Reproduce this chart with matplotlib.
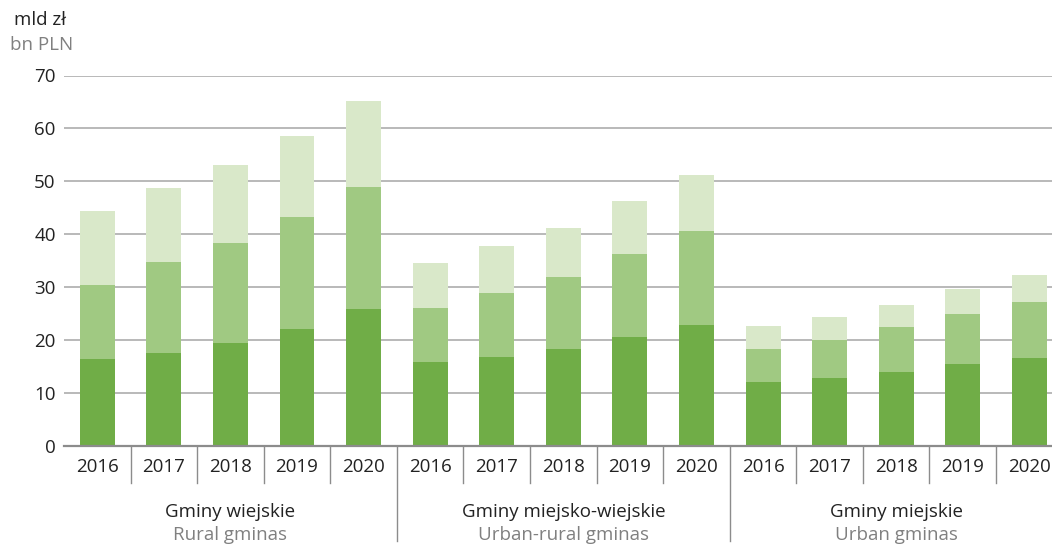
import numpy as np
import matplotlib
matplotlib.use("Agg")
import matplotlib.pyplot as plt
import matplotlib.transforms as mtransforms

plt.rcParams['font.family'] = ['Open Sans', 'DejaVu Sans']

years = ["2016", "2017", "2018", "2019", "2020"]
groups_pl = ["Gminy wiejskie", "Gminy miejsko-wiejskie", "Gminy miejskie"]
groups_en = ["Rural gminas", "Urban-rural gminas", "Urban gminas"]

# segment values, bn PLN (bottom / middle / top), per group
rural_bottom = [16.4, 17.6, 19.5, 22.1, 25.9]
rural_middle = [14.0, 17.2, 18.9, 21.2, 23.0]
rural_top = [14.0, 13.9, 14.7, 15.2, 16.3]

urbrur_bottom = [15.8, 16.9, 18.3, 20.5, 22.8]
urbrur_middle = [10.2, 12.1, 13.7, 15.8, 17.9]
urbrur_top = [8.6, 8.7, 9.2, 10.0, 10.5]

urban_bottom = [12.0, 12.8, 13.9, 15.4, 16.6]
urban_middle = [6.3, 7.2, 8.5, 9.5, 10.7]
urban_top = [4.3, 4.3, 4.3, 4.7, 5.1]

bottom = np.array(rural_bottom + urbrur_bottom + urban_bottom)
middle = np.array(rural_middle + urbrur_middle + urban_middle)
top = np.array(rural_top + urbrur_top + urban_top)

c_dark = "#70ad47"
c_mid = "#a0c982"
c_light = "#d9e8c9"
grid_c = "#a6a6a6"
text_c = "#222222"
grey_t = "#808080"
fs = 13.5

W, H = 1052, 546
fig = plt.figure(figsize=(W / 100, H / 100), dpi=100)
ax = fig.add_axes([64 / W, (H - 446) / H, 1 - 64 / W, (446 - 75.5) / H])

x = np.arange(len(bottom))
bw = 0.525
ax.bar(x, bottom, bw, color=c_dark, zorder=3)
ax.bar(x, middle, bw, bottom=bottom, color=c_mid, zorder=3)
ax.bar(x, top, bw, bottom=bottom + middle, color=c_light, zorder=3)

ax.set_xlim(-0.5, 14.34)
ax.set_ylim(0, 70)
ax.set_yticks(range(0, 71, 10))
ax.yaxis.grid(True, color=grid_c, linewidth=1.1, zorder=0)
ax.tick_params(axis='y', length=0, pad=6, labelsize=fs, labelcolor=text_c)

for s in ["top", "right", "left"]:
    ax.spines[s].set_visible(False)
ax.spines["bottom"].set_color("#8c8c8c")
ax.spines["bottom"].set_linewidth(1.6)
ax.spines["bottom"].set_zorder(4)

ax.set_xticks(x)
ax.set_xticklabels(years * 3)
ax.tick_params(axis='x', length=0, pad=9, labelsize=fs, labelcolor=text_c)

trans = mtransforms.blended_transform_factory(ax.transData, ax.transAxes)
ax_h = 446 - 75.5
for b in np.arange(0.5, 14, 1.0):
    if b in (4.5, 9.5):
        y_end = -(541 - 446) / ax_h
    else:
        y_end = -(483 - 446) / ax_h
    ax.plot([b, b], [0, y_end], color="#8c8c8c", linewidth=1.0,
            transform=trans, clip_on=False)

for i in range(3):
    cx = i * 5 + 2
    ax.text(cx, -(512 - 446) / ax_h, groups_pl[i], transform=trans,
            ha="center", va="center", fontsize=fs, color=text_c)
    ax.text(cx, -(535 - 446) / ax_h, groups_en[i], transform=trans,
            ha="center", va="center", fontsize=fs, color=grey_t)

fig.text(14 / W, 1 - 20 / H, "mld zł", ha="left", va="center",
         fontsize=fs, color=text_c)
fig.text(10 / W, 1 - 45 / H, "bn PLN", ha="left", va="center",
         fontsize=fs, color=grey_t)

fig.savefig("out.png", dpi=100)
